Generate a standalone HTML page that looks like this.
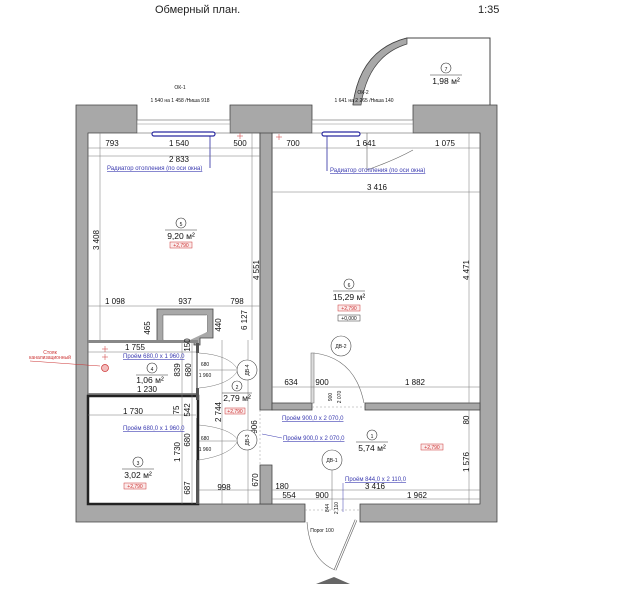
<!DOCTYPE html>
<html><head><meta charset="utf-8"><style>
html,body{margin:0;padding:0;background:#fff;}
svg{display:block;font-family:"Liberation Sans","DejaVu Sans",sans-serif;}
.d{font-size:8px;fill:#111;text-anchor:middle;}
.s{font-size:5px;fill:#111;text-anchor:middle;}
.b{font-size:6px;fill:#3a3ab0;text-decoration:underline;}
.a{font-size:8.5px;fill:#111;text-anchor:middle;}
.w{fill:#a8a8a8;stroke:#444;stroke-width:0.8;}
.l{stroke:#777;stroke-width:0.5;fill:none;}
.r{font-size:5px;fill:#c33;text-anchor:middle;}
</style></head><body>
<svg width="642" height="600" viewBox="0 0 642 600">
<rect width="642" height="600" fill="#fff"/>
<text x="155" y="13" font-size="11" fill="#222">Обмерный план.</text>
<text x="478" y="13" font-size="11" fill="#222">1:35</text>

<!-- balcony -->
<path d="M353,105 Q360,50 407,38 L490,38 L490,105" fill="none" stroke="#444" stroke-width="1"/>
<path d="M353,105 Q360,50 407,38 L407,44 Q368,56 361,105 Z" fill="#a8a8a8" stroke="#444" stroke-width="0.7"/>
<circle cx="446" cy="68" r="5" fill="none" stroke="#333" stroke-width="0.6"/>
<text x="446" y="71" class="s" font-size="6">7</text>
<line x1="430" y1="75" x2="462" y2="75" stroke="#333" stroke-width="0.5"/>
<text x="446" y="84" class="a">1,98 м²</text>

<!-- walls -->
<path class="w" d="M76,105 L137,105 L137,133 L88,133 L88,504 L305,504 L305,522 L76,522 Z"/>
<path class="w" d="M230,105 L312,105 L312,133 L272,133 L272,403 L260,410 L260,133 L230,133 Z"/>
<path class="w" d="M260,133 L272,133 L272,410 L260,410 Z"/>
<path class="w" d="M413,105 L497,105 L497,522 L360,522 L360,504 L480,504 L480,133 L413,133 Z"/>
<path class="w" d="M260,465 L272,465 L272,504 L260,504 Z"/>
<rect class="w" x="272" y="403" width="40" height="7"/>
<rect class="w" x="365" y="403" width="115" height="7"/>
<!-- windows -->
<rect x="137" y="120" width="93" height="13" fill="#fff" stroke="#666" stroke-width="0.6"/>
<line x1="137" y1="124" x2="230" y2="124" stroke="#888" stroke-width="0.5"/>
<rect x="312" y="120" width="101" height="13" fill="#fff" stroke="#666" stroke-width="0.6"/>
<line x1="312" y1="124" x2="413" y2="124" stroke="#888" stroke-width="0.5"/>
<path d="M367,133 L367,170 Q395,160 413,150" fill="none" stroke="#666" stroke-width="0.6"/>
<rect x="152" y="132" width="63" height="4" rx="2" fill="#fff" stroke="#2a2aa0" stroke-width="1.2"/>
<rect x="322" y="132" width="38" height="4" rx="2" fill="#fff" stroke="#2a2aa0" stroke-width="1.2"/>
<line x1="210" y1="136" x2="210" y2="168" stroke="#2a2aa0" stroke-width="0.8"/>
<line x1="327" y1="136" x2="327" y2="171" stroke="#2a2aa0" stroke-width="0.8"/>
<text x="180" y="89" class="s">ОК-1</text>
<text x="180" y="102" class="s">1 540 на 1 458 /Ниша 918</text>
<text x="363" y="94" class="s">ОК-2</text>
<text x="364" y="102" class="s">1 641 на 2 265 /Ниша 140</text>

<!-- shaft -->
<path class="w" d="M157,309 L213,309 L213,338 L200,338 L200,345 L194,345 L194,342 L157,342 Z"/>
<polygon points="163,315 207,315 207,332 163,340" fill="#fff" stroke="#555" stroke-width="0.5"/>
<polygon points="163,340 207,315 207,332 190,340" fill="#fff"/>
<!-- partitions -->
<rect x="88" y="340" width="110" height="3" fill="#888"/>
<rect x="88" y="393" width="110" height="3" fill="#888"/>
<rect x="88" y="396" width="110" height="108" fill="none" stroke="#222" stroke-width="2.5"/>
<rect x="196" y="343" width="3" height="10" fill="#555"/>
<rect x="196" y="388" width="3" height="12" fill="#555"/>
<rect x="196" y="460" width="3" height="44" fill="#555"/>
<line x1="197" y1="353" x2="197" y2="388" stroke="#222" stroke-width="1"/>
<line x1="197" y1="418" x2="197" y2="460" stroke="#222" stroke-width="1"/>
<path d="M199,353 Q230,355 238,370 Q230,385 199,388" fill="none" stroke="#777" stroke-width="0.5"/>
<path d="M199,425 Q230,428 238,440 Q232,455 199,460" fill="none" stroke="#777" stroke-width="0.5"/>
<!-- dashed opening lines -->
<line x1="260" y1="410" x2="260" y2="465" stroke="#999" stroke-dasharray="2,2" stroke-width="0.5"/>
<line x1="312" y1="407" x2="365" y2="407" stroke="#999" stroke-dasharray="2,2" stroke-width="0.5"/>
<line x1="305" y1="510" x2="360" y2="510" stroke="#999" stroke-dasharray="2,2" stroke-width="0.5"/>
<!-- door DV-2 -->
<rect x="311" y="353" width="3" height="50" fill="#ddd" stroke="#666" stroke-width="0.5"/>
<path d="M314,353 Q355,358 364,403" fill="none" stroke="#666" stroke-width="0.6"/>
<!-- entrance door -->
<path d="M307,522 Q310,560 335,570" fill="none" stroke="#666" stroke-width="0.6"/>
<line x1="335" y1="570" x2="356" y2="520" stroke="#666" stroke-width="2.5"/>
<line x1="335" y1="570" x2="356" y2="520" stroke="#fff" stroke-width="1.2"/>
<polygon points="316,584 334,577 350,584" fill="#666"/>
<text x="322" y="532" class="s">Порог 100</text>

<!-- dimension lines -->
<g class="l">
<line x1="88" y1="148" x2="260" y2="148"/><line x1="88" y1="156" x2="260" y2="156"/>
<line x1="100" y1="133" x2="100" y2="340"/><line x1="252" y1="133" x2="252" y2="340"/>
<line x1="88" y1="306" x2="260" y2="306"/>
<line x1="272" y1="148" x2="480" y2="148"/><line x1="272" y1="192" x2="480" y2="192"/>
<line x1="469" y1="133" x2="469" y2="403"/><line x1="469" y1="410" x2="469" y2="504"/>
<line x1="272" y1="387" x2="480" y2="387"/>
<line x1="272" y1="490" x2="480" y2="490"/><line x1="272" y1="499" x2="480" y2="499"/>
<line x1="88" y1="352" x2="196" y2="352"/><line x1="88" y1="415" x2="196" y2="415"/>
<line x1="182" y1="343" x2="182" y2="504"/><line x1="192" y1="343" x2="192" y2="504"/>
<line x1="222" y1="340" x2="222" y2="504"/><line x1="248" y1="340" x2="248" y2="504"/>
<line x1="199" y1="490" x2="260" y2="490"/>
<line x1="199" y1="370" x2="236" y2="370"/><line x1="199" y1="441" x2="236" y2="441"/>
</g>
<text x="112" y="146" class="d">793</text><text x="179" y="146" class="d">1 540</text><text x="240" y="146" class="d">500</text>
<text x="179" y="162" class="d">2 833</text>
<text x="107" y="170" class="b">Радиатор отопления (по оси окна)</text>
<text x="293" y="146" class="d">700</text><text x="366" y="146" class="d">1 641</text><text x="445" y="146" class="d">1 075</text>
<text x="330" y="172" class="b">Радиатор отопления (по оси окна)</text>
<text x="377" y="190" class="d">3 416</text>
<text class="d" transform="translate(99,240) rotate(-90)">3 408</text>
<text class="d" transform="translate(259,270) rotate(-90)">4 551</text>
<text class="d" transform="translate(247,320) rotate(-90)">6 127</text>
<text class="d" transform="translate(469,270) rotate(-90)">4 471</text>
<text x="115" y="304" class="d">1 098</text><text x="185" y="304" class="d">937</text><text x="237" y="304" class="d">798</text>
<text class="d" transform="translate(150,328) rotate(-90)">465</text>
<text class="d" transform="translate(221,325) rotate(-90)">440</text>
<circle cx="181" cy="223" r="5" fill="none" stroke="#333" stroke-width="0.6"/><text x="181" y="226" class="s" font-size="6">5</text>
<line x1="165" y1="230" x2="197" y2="230" stroke="#333" stroke-width="0.5"/>
<text x="181" y="239" class="a">9,20 м²</text>
<rect x="170" y="242" width="22" height="6" fill="#fbeaea" stroke="#c33" stroke-width="0.5"/><text x="181" y="247" class="r">+2,790</text>
<circle cx="349" cy="284" r="5" fill="none" stroke="#333" stroke-width="0.6"/><text x="349" y="287" class="s" font-size="6">6</text>
<line x1="333" y1="291" x2="365" y2="291" stroke="#333" stroke-width="0.5"/>
<text x="349" y="300" class="a">15,29 м²</text>
<rect x="338" y="305" width="22" height="6" fill="#fbeaea" stroke="#c33" stroke-width="0.5"/><text x="349" y="310" class="r">+2,790</text>
<rect x="338" y="315" width="22" height="6" fill="#fff" stroke="#333" stroke-width="0.5"/><text x="349" y="320" class="s">+0,000</text>
<circle cx="341" cy="346" r="10" fill="#fff" stroke="#444" stroke-width="0.6"/><text x="341" y="348" class="s">ДВ-2</text>
<text x="291" y="385" class="d">634</text><text x="322" y="385" class="d">900</text><text x="415" y="385" class="d">1 882</text>
<text class="s" transform="translate(332,397) rotate(-90)">900</text>
<text class="s" transform="translate(341,397) rotate(-90)">2 070</text>
<text x="282" y="420" class="b">Проём 900,0 x 2 070,0</text>
<text x="283" y="440" class="b">Проём 900,0 x 2 070,0</text>
<line x1="262" y1="434" x2="282" y2="438" stroke="#3a3ab0" stroke-width="0.5"/>
<text class="d" transform="translate(469,420) rotate(-90)">80</text>
<text class="d" transform="translate(469,462) rotate(-90)">1 576</text>
<circle cx="372" cy="435" r="5" fill="none" stroke="#333" stroke-width="0.6"/><text x="372" y="438" class="s" font-size="6">1</text>
<line x1="356" y1="442" x2="388" y2="442" stroke="#333" stroke-width="0.5"/>
<text x="372" y="451" class="a">5,74 м²</text>
<rect x="421" y="444" width="22" height="6" fill="#fbeaea" stroke="#c33" stroke-width="0.5"/><text x="432" y="449" class="r">+2,790</text>
<line x1="332" y1="470" x2="332" y2="510" stroke="#666" stroke-width="0.5"/>
<circle cx="332" cy="460" r="10" fill="#fff" stroke="#444" stroke-width="0.6"/><text x="332" y="462" class="s">ДВ-1</text>
<text x="345" y="481" class="b">Проём 844,0 x 2 110,0</text>
<line x1="343" y1="483" x2="343" y2="512" stroke="#3a3ab0" stroke-width="0.5"/>
<text x="282" y="489" class="d">180</text><text x="375" y="489" class="d">3 416</text>
<text x="289" y="498" class="d">554</text><text x="322" y="498" class="d">900</text><text x="417" y="498" class="d">1 962</text>
<text class="s" transform="translate(329,508) rotate(-90)">844</text>
<text class="s" transform="translate(338,508) rotate(-90)">2 110</text>

<text x="135" y="350" class="d">1 755</text>
<text x="123" y="358" class="b">Проём 680,0 x 1 960,0</text>
<circle cx="152" cy="368" r="5" fill="none" stroke="#333" stroke-width="0.6"/><text x="152" y="371" class="s" font-size="6">4</text>
<line x1="136" y1="375" x2="168" y2="375" stroke="#333" stroke-width="0.5"/>
<text x="150" y="383" class="a">1,06 м²</text>
<text x="147" y="392" class="d">1 230</text>
<text class="d" transform="translate(180,370) rotate(-90)">839</text>
<text class="d" transform="translate(191,370) rotate(-90)">680</text>
<text class="d" transform="translate(190,345) rotate(-90)">150</text>
<text x="205" y="366" class="s">680</text><text x="205" y="377" class="s">1 960</text>
<circle cx="247" cy="370" r="10" fill="#fff" stroke="#444" stroke-width="0.6"/><text class="s" transform="translate(249,370) rotate(-90)">ДВ-4</text>
<circle cx="237" cy="386" r="5" fill="none" stroke="#333" stroke-width="0.6"/><text x="237" y="389" class="s" font-size="6">2</text>
<line x1="222" y1="393" x2="252" y2="393" stroke="#333" stroke-width="0.5"/>
<text x="237" y="401" class="a">2,79 м²</text>
<rect x="225" y="408" width="20" height="6" fill="#fbeaea" stroke="#c33" stroke-width="0.5"/><text x="235" y="413" class="r">+2,790</text>
<text class="d" transform="translate(221,412) rotate(-90)">2 744</text>
<text class="d" transform="translate(257,427) rotate(-90)">906</text>
<text x="133" y="414" class="d">1 730</text>
<text class="d" transform="translate(179,410) rotate(-90)">75</text>
<text class="d" transform="translate(190,410) rotate(-90)">542</text>
<text x="123" y="430" class="b">Проём 680,0 x 1 960,0</text>
<text x="205" y="440" class="s">680</text><text x="205" y="451" class="s">1 960</text>
<circle cx="247" cy="440" r="10" fill="#fff" stroke="#444" stroke-width="0.6"/><text class="s" transform="translate(249,440) rotate(-90)">ДВ-3</text>
<circle cx="138" cy="462" r="5" fill="none" stroke="#333" stroke-width="0.6"/><text x="138" y="465" class="s" font-size="6">3</text>
<line x1="122" y1="469" x2="154" y2="469" stroke="#333" stroke-width="0.5"/>
<text x="138" y="478" class="a">3,02 м²</text>
<rect x="124" y="483" width="22" height="6" fill="#fbeaea" stroke="#c33" stroke-width="0.5"/><text x="135" y="488" class="r">+2,790</text>
<text class="d" transform="translate(180,452) rotate(-90)">1 730</text>
<text class="d" transform="translate(190,440) rotate(-90)">680</text>
<text class="d" transform="translate(190,488) rotate(-90)">687</text>
<text x="224" y="490" class="d">998</text>
<text class="d" transform="translate(258,480) rotate(-90)">670</text>
<!-- stack -->
<text x="50" y="354" class="r" font-size="4.5">Стояк</text>
<text x="50" y="359" class="r" font-size="4.5">канализационный</text>
<line x1="30" y1="361" x2="100" y2="366" stroke="#c33" stroke-width="0.5"/>
<circle cx="105" cy="368" r="3.5" fill="#f3bcbc" stroke="#c33" stroke-width="0.7"/>
<g stroke="#c33" stroke-width="0.5"><line x1="102" y1="349" x2="108" y2="349"/><line x1="105" y1="346" x2="105" y2="352"/><line x1="102" y1="357" x2="108" y2="357"/><line x1="105" y1="354" x2="105" y2="360"/>
<line x1="237" y1="136" x2="243" y2="136"/><line x1="240" y1="133" x2="240" y2="139"/>
<line x1="276" y1="137" x2="282" y2="137"/><line x1="279" y1="134" x2="279" y2="140"/></g>
</svg>
</body></html>
